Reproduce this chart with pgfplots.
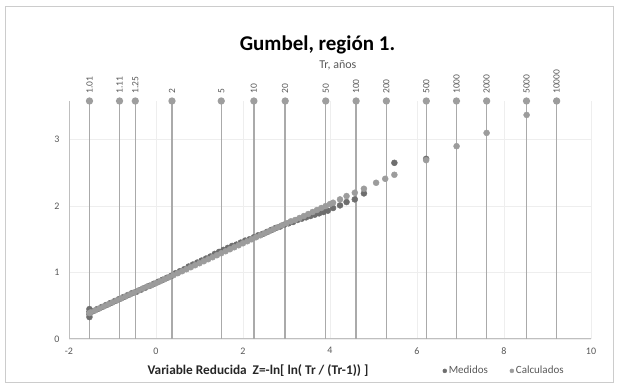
\documentclass[border=0pt]{standalone}
\usepackage{fontspec}
\setmainfont{Carlito}
\usepackage{pgfplots}
\pgfplotsset{compat=1.18}
\definecolor{med}{RGB}{110,110,110}
\definecolor{cal}{RGB}{156,156,156}
\definecolor{trm}{RGB}{158,158,158}
\definecolor{trl}{RGB}{170,170,170}
\definecolor{txt}{RGB}{89,89,89}
\definecolor{grd}{RGB}{238,238,238}
\definecolor{axl}{RGB}{191,191,191}
\begin{document}
\begin{tikzpicture}
\useasboundingbox (0,0) rectangle (619pt,385pt);
\fill[white] (0,0) rectangle (619pt,385pt);
\draw[black!20, line width=0.8pt] (5.5pt,3pt) rectangle (613.5pt,379pt);
\begin{axis}[
  at={(69pt,46pt)}, anchor=south west,
  scale only axis, width=522pt, height=238pt,
  xmin=-2, xmax=10, ymin=0, ymax=3.58,
  xtick={-2,0,2,4,6,8,10}, ytick={0,1,2,3},
  axis x line*=bottom, axis y line*=left,
  axis line style={axl, line width=1pt, -},
  major tick length=0pt,
  grid=major, major grid style={grd, line width=0.7pt},
  tick label style={font=\fontsize{10}{12}\selectfont, color=txt},
  /pgf/number format/assume math mode=true,
  xticklabel style={yshift=-5pt},
  yticklabel style={xshift=-6pt},
  clip=false,
  title={\textbf{Gumbel, región 1.}},
  title style={at={(rel axis cs:0.476,1.21)}, anchor=center, font=\fontsize{21}{24}\selectfont, color=black},
  xlabel={\textbf{Variable Reducida\ \ Z=-ln[ ln( Tr / (Tr-1)) ]}},
  xlabel style={at={(rel axis cs:0.362,-0.134)}, anchor=center, font=\fontsize{13.3}{15}\selectfont, color=black!85},
  legend columns=2,
  legend style={at={(rel axis cs:0.71,-0.134)}, anchor=west, draw=none, fill=none,
    font=\fontsize{11}{13}\selectfont\color{txt},
    /tikz/every even column/.append style={column sep=20pt}},
  legend image code/.code={\draw[mark repeat=2,mark phase=2,#1,mark size=2pt] plot coordinates {(0cm,0cm) (0.1cm,0cm) (0.2cm,0cm)};},
]
% Tr reference lines
\addplot[ycomb, color=trl, line width=1.4pt, mark=*, mark options={draw=trm, fill=trm, mark size=2.9pt}, forget plot]
coordinates {(-1.529,3.58) (-0.838,3.58) (-0.476,3.58) (0.367,3.58) (1.500,3.58) (2.250,3.58) (2.970,3.58) (3.902,3.58) (4.600,3.58) (5.296,3.58) (6.214,3.58) (6.907,3.58) (7.601,3.58) (8.517,3.58) (9.210,3.58)};
% Medidos
\addplot[only marks, mark=*, mark size=3pt, draw=med, fill=med]
coordinates {
(-1.53,0.33) (-1.53,0.37) (-1.53,0.41) (-1.53,0.45)
(-1.45,0.42) (-1.35,0.45) (-1.25,0.48) (-1.15,0.51) (-1.05,0.54)
(-0.95,0.57) (-0.85,0.60) (-0.75,0.63) (-0.65,0.66) (-0.55,0.69)
(-0.45,0.71) (-0.35,0.74) (-0.25,0.77) (-0.15,0.80) (-0.05,0.83)
(0.05,0.86) (0.15,0.89) (0.25,0.92) (0.35,0.95) (0.45,0.99)
(0.55,1.02) (0.65,1.05) (0.75,1.09) (0.85,1.12) (0.95,1.15)
(1.05,1.18) (1.15,1.21) (1.25,1.24) (1.35,1.28) (1.45,1.31)
(1.55,1.34) (1.65,1.37) (1.75,1.40) (1.85,1.42) (1.95,1.45)
(2.05,1.48) (2.15,1.50) (2.25,1.53) (2.35,1.56) (2.45,1.58)
(2.55,1.61) (2.65,1.64) (2.75,1.67) (2.85,1.69) (2.95,1.72)
(3.05,1.74) (3.15,1.76) (3.25,1.79) (3.35,1.81) (3.45,1.83)
(3.55,1.85) (3.65,1.87) (3.75,1.89) (3.85,1.91) (3.95,1.93)
(4.07,1.97) (4.23,2.01) (4.38,2.06) (4.57,2.10) (4.78,2.19)
(5.48,2.65) (6.21,2.71)
};
% Calculados
\addplot[only marks, mark=*, mark size=3pt, draw=cal, fill=cal]
coordinates {
(-1.53,0.39) (-1.5,0.40) (-1.4,0.43) (-1.3,0.46) (-1.2,0.49) (-1.1,0.52)
(-1.0,0.55) (-0.9,0.58) (-0.8,0.61) (-0.7,0.64) (-0.6,0.67)
(-0.5,0.70) (-0.4,0.73) (-0.3,0.76) (-0.2,0.79) (-0.1,0.81)
(0.0,0.84) (0.1,0.87) (0.2,0.90) (0.3,0.93) (0.4,0.96)
(0.5,0.99) (0.6,1.02) (0.7,1.05) (0.8,1.08) (0.9,1.11)
(1.0,1.14) (1.1,1.17) (1.2,1.20) (1.3,1.23) (1.4,1.26)
(1.5,1.29) (1.6,1.32) (1.7,1.35) (1.8,1.38) (1.9,1.41)
(2.0,1.44) (2.1,1.47) (2.2,1.50) (2.3,1.53) (2.4,1.56)
(2.5,1.59) (2.6,1.62) (2.7,1.65) (2.8,1.68) (2.9,1.71)
(3.0,1.74) (3.1,1.77) (3.2,1.79) (3.3,1.82) (3.4,1.85)
(3.5,1.88) (3.6,1.91) (3.7,1.94) (3.8,1.97) (3.9,2.00)
(4.0,2.03) (4.07,2.05) (4.23,2.10) (4.38,2.15) (4.57,2.20)
(4.78,2.26) (5.06,2.35) (5.27,2.41) (5.48,2.47) (6.21,2.69)
(6.91,2.90) (7.60,3.10) (8.52,3.37) (9.21,3.58)
};
\legend{Medidos, Calculados}
% Tr labels
\node[rotate=90, anchor=west, inner sep=0pt, font=\fontsize{9.5}{10}\selectfont, text=txt] at ([yshift=7pt]axis cs:-1.529,3.58) {1.01};
\node[rotate=90, anchor=west, inner sep=0pt, font=\fontsize{9.5}{10}\selectfont, text=txt] at ([yshift=7pt]axis cs:-0.838,3.58) {1.11};
\node[rotate=90, anchor=west, inner sep=0pt, font=\fontsize{9.5}{10}\selectfont, text=txt] at ([yshift=7pt]axis cs:-0.476,3.58) {1.25};
\node[rotate=90, anchor=west, inner sep=0pt, font=\fontsize{9.5}{10}\selectfont, text=txt] at ([yshift=7pt]axis cs:0.367,3.58) {2};
\node[rotate=90, anchor=west, inner sep=0pt, font=\fontsize{9.5}{10}\selectfont, text=txt] at ([yshift=7pt]axis cs:1.500,3.58) {5};
\node[rotate=90, anchor=west, inner sep=0pt, font=\fontsize{9.5}{10}\selectfont, text=txt] at ([yshift=7pt]axis cs:2.250,3.58) {10};
\node[rotate=90, anchor=west, inner sep=0pt, font=\fontsize{9.5}{10}\selectfont, text=txt] at ([yshift=7pt]axis cs:2.970,3.58) {20};
\node[rotate=90, anchor=west, inner sep=0pt, font=\fontsize{9.5}{10}\selectfont, text=txt] at ([yshift=7pt]axis cs:3.902,3.58) {50};
\node[rotate=90, anchor=west, inner sep=0pt, font=\fontsize{9.5}{10}\selectfont, text=txt] at ([yshift=7pt]axis cs:4.600,3.58) {100};
\node[rotate=90, anchor=west, inner sep=0pt, font=\fontsize{9.5}{10}\selectfont, text=txt] at ([yshift=7pt]axis cs:5.296,3.58) {200};
\node[rotate=90, anchor=west, inner sep=0pt, font=\fontsize{9.5}{10}\selectfont, text=txt] at ([yshift=7pt]axis cs:6.214,3.58) {500};
\node[rotate=90, anchor=west, inner sep=0pt, font=\fontsize{9.5}{10}\selectfont, text=txt] at ([yshift=7pt]axis cs:6.907,3.58) {1000};
\node[rotate=90, anchor=west, inner sep=0pt, font=\fontsize{9.5}{10}\selectfont, text=txt] at ([yshift=7pt]axis cs:7.601,3.58) {2000};
\node[rotate=90, anchor=west, inner sep=0pt, font=\fontsize{9.5}{10}\selectfont, text=txt] at ([yshift=7pt]axis cs:8.517,3.58) {5000};
\node[rotate=90, anchor=west, inner sep=0pt, font=\fontsize{9.5}{10}\selectfont, text=txt] at ([yshift=7pt]axis cs:9.210,3.58) {10000};
\node[font=\fontsize{12}{14}\selectfont, text=txt] at (rel axis cs:0.515,1.15) {Tr, años};
\end{axis}
\end{tikzpicture}
\end{document}
